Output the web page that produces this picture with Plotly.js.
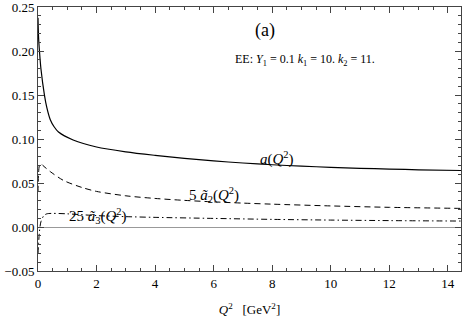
<!DOCTYPE html>
<html>
<head>
<meta charset="utf-8">
<script src="https://cdn.plot.ly/plotly-3.0.1.min.js"></script>
<style>
  body { margin: 0; padding: 0; background: #fff; }
  #graph { width: 463px; height: 322px; }
</style>
</head>
<body>
<div id="graph"></div>
<script>
// values
var q2_a = [0, 0.02, 0.05, 0.1, 0.22, 0.3, 0.42, 0.55, 0.7, 1.2, 2, 3, 4, 5, 6, 7, 8, 9, 10, 11, 12, 13, 14.45];
var a_vals = [0.238, 0.215, 0.200, 0.180, 0.150, 0.136, 0.122, 0.114, 0.108, 0.099, 0.091, 0.0855, 0.0815, 0.078, 0.0752, 0.0728, 0.0708, 0.0692, 0.0679, 0.0668, 0.0659, 0.0651, 0.0643];

var q2_a2 = [0, 0.02, 0.05, 0.1, 0.2, 0.42, 0.87, 1.5, 2, 3, 4, 5, 6, 7, 8, 10, 12, 14.45];
var a2_vals = [0.040, 0.062, 0.070, 0.0718, 0.069, 0.063, 0.053, 0.045, 0.0405, 0.0355, 0.0325, 0.0303, 0.0286, 0.0272, 0.026, 0.024, 0.0224, 0.0212];

var q2_a3 = [0, 0.05, 0.1, 0.2, 0.3, 0.5, 1, 2, 3, 4, 6, 8, 10, 12, 14.45];
var a3_vals = [-0.030, -0.005, 0.006, 0.013, 0.015, 0.0155, 0.015, 0.013, 0.0118, 0.011, 0.0098, 0.0087, 0.0079, 0.0073, 0.0068];

var serif = "Liberation Serif, Times New Roman, serif";

var traces = [
  {x: q2_a, y: a_vals, type: "scatter", mode: "lines", line: {color: "#000", width: 1.2, shape: "spline", smoothing: 0.8}},
  {x: q2_a2, y: a2_vals, type: "scatter", mode: "lines", line: {color: "#000", width: 1, dash: "6px,4px", shape: "spline", smoothing: 0.8}},
  {x: q2_a3, y: a3_vals, type: "scatter", mode: "lines", line: {color: "#000", width: 1, dash: "6px,3px,1.5px,3px", shape: "spline", smoothing: 0.8}}
];

var layout = {
  width: 463,
  height: 322,
  margin: {l: 38, r: 2, t: 7, b: 51},
  showlegend: false,
  paper_bgcolor: "#fff",
  plot_bgcolor: "#fff",
  font: {family: serif, size: 13, color: "#000"},
  xaxis: {
    range: [0, 14.45],
    dtick: 2,
    tick0: 0,
    ticks: "inside",
    ticklen: 6,
    tickcolor: "#444",
    minor: {dtick: 0.5, ticks: "inside", ticklen: 3, tickcolor: "#444"},
    showgrid: false,
    zeroline: false,
    showline: true,
    linecolor: "#444",
    linewidth: 1,
    mirror: "allticks",
    ticklabeloverflow: "allow",
    tickfont: {family: serif, size: 13},
    title: {text: "<i>Q</i><sup>2</sup>   [GeV<sup>2</sup>]", font: {family: serif, size: 13}, standoff: 15}
  },
  yaxis: {
    range: [-0.05, 0.2502],
    dtick: 0.05,
    tick0: 0,
    tickformat: ".2f",
    ticks: "inside",
    ticklen: 6,
    tickcolor: "#444",
    minor: {dtick: 0.01, ticks: "inside", ticklen: 3, tickcolor: "#444"},
    showgrid: false,
    zeroline: true,
    zerolinecolor: "#999",
    zerolinewidth: 1,
    showline: true,
    linecolor: "#444",
    linewidth: 1,
    mirror: "allticks",
    ticklabeloverflow: "allow",
    tickfont: {family: serif, size: 13}
  },
  annotations: [
    {xref: "x", yref: "y", x: 7.75, y: 0.223, text: "(a)", showarrow: false, font: {family: serif, size: 18}},
    {xref: "x", yref: "y", x: 9.12, y: 0.1895, text: "EE: <i>Y</i><sub>1</sub> = 0.1 <i>k</i><sub>1</sub> = 10. <i>k</i><sub>2</sub> = 11.", showarrow: false, font: {family: serif, size: 12}},
    {xref: "x", yref: "y", x: 8.15, y: 0.0785, text: "<i>a</i>(<i>Q</i><sup>2</sup>)", showarrow: false, font: {family: serif, size: 15}},
    {xref: "x", yref: "y", x: 6.0, y: 0.0365, text: "5 <i>ã</i><sub>2</sub>(<i>Q</i><sup>2</sup>)", showarrow: false, font: {family: serif, size: 15}},
    {xref: "x", yref: "y", x: 2.05, y: 0.0125, text: "25 <i>ã</i><sub>3</sub>(<i>Q</i><sup>2</sup>)", showarrow: false, font: {family: serif, size: 15}}
  ]
};

Plotly.newPlot("graph", traces, layout, {displayModeBar: false, staticPlot: true});
</script>
</body>
</html>
